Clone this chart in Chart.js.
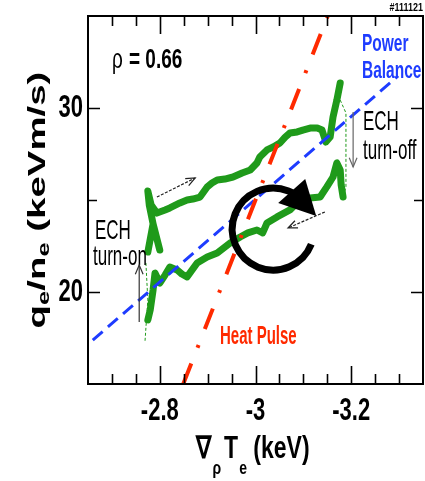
<!DOCTYPE html>
<html>
<head>
<meta charset="utf-8">
<script src="https://cdn.jsdelivr.net/npm/chart.js@4.4.1/dist/chart.umd.min.js"></script>
<style>
  html, body { margin: 0; padding: 0; background: #fff; overflow: hidden; }
</style>
</head>
<body>
<canvas id="chart" width="425" height="481"></canvas>
<script>
// ---- data (grad Te in keV, qe/ne in keVm/s) ----
const upperX = [-2.800, -2.786, -2.775, -2.786, -2.778, -2.775, -2.782, -2.794, -2.811, -2.821,
  -2.842, -2.857, -2.869, -2.884, -2.899, -2.909, -2.920, -2.936, -2.953, -2.972,
  -2.989, -3.003, -3.009, -3.024, -3.037, -3.051, -3.062, -3.072, -3.087, -3.099,
  -3.114, -3.129, -3.139, -3.147, -3.156, -3.162, -3.170, -3.177];
const upperY = [22.28, 23.70, 22.17, 23.70, 24.73, 25.49, 24.73, 24.29, 24.46, 24.57,
  24.84, 25.00, 25.05, 25.16, 25.71, 25.92, 26.09, 26.14, 26.25, 26.47,
  26.63, 27.01, 27.34, 27.72, 27.88, 28.10, 28.42, 28.64, 28.70, 28.80,
  28.91, 28.91, 28.80, 28.15, 28.42, 29.51, 30.43, 31.36];

const lowerX = [-3.183, -3.179, -3.177, -3.170, -3.166, -3.162, -3.149, -3.135, -3.114, -3.093,
  -3.072, -3.045, -3.024, -3.015, -3.003, -2.984, -2.968, -2.947, -2.920, -2.899,
  -2.878, -2.857, -2.846, -2.836, -2.821, -2.811, -2.800, -2.790, -2.786, -2.780, -2.775];
const lowerY = [25.16, 25.82, 26.63, 27.01, 26.63, 26.25, 25.71, 25.16, 25.11, 25.00,
  24.46, 24.08, 23.75, 23.21, 23.37, 23.21, 22.99, 22.66, 22.12, 21.90,
  21.58, 20.82, 20.98, 21.20, 21.36, 20.92, 20.49, 21.03, 20.11, 19.02, 18.48];

const turnOffX = [-3.177, -3.189, -3.189, -3.183];
const turnOffY = [30.43, 29.73, 25.71, 25.16];
const turnOnX = [-2.771, -2.775, -2.769];
const turnOnY = [21.58, 19.57, 17.28];

const powerBalanceX = [-2.660, -3.298];
const powerBalanceY = [17.39, 31.74];
const heatPulseX = [-2.849, -3.151];
const heatPulseY = [15.0, 35.0];

const xMajorTicks = [-2.8, -3, -3.2];
const xTickLabels = ["-2.8", "-3", "-3.2"];
const xMinorTicks = [-2.7, -2.75, -2.85, -2.9, -2.95, -3.05, -3.1, -3.15, -3.25, -3.3];
const yMajorTicks = [20, 30];
const yTickLabels = ["20", "30"];
const yMinorTicks = [25];

const GREEN = "#1f9a1a";
const BLUE = "#1e3cff";
const RED = "#ff2a00";
const FONT = "'Liberation Sans', Arial, Helvetica, sans-serif";

const pts = (xs, ys) => xs.map((x, i) => ({ x: x, y: ys[i] }));

// text stretched vertically like the original figure
function txt(ctx, s, x, y, font, color, align, k) {
  ctx.save();
  ctx.translate(x, y);
  ctx.scale(1, k);
  ctx.font = font;
  ctx.fillStyle = color;
  ctx.textAlign = align;
  ctx.textBaseline = "middle";
  ctx.fillText(s, 0, 0);
  ctx.restore();
}

// text made of pieces (subscripts), centred on x, baseline at y
function rich(ctx, pieces, x, y, k, rotate) {
  ctx.save();
  ctx.translate(x, y);
  ctx.scale(1, k);
  if (rotate) ctx.rotate(-Math.PI / 2);
  ctx.textAlign = "left";
  ctx.textBaseline = "alphabetic";
  ctx.fillStyle = "#000";
  let total = 0;
  pieces.forEach((p) => {
    ctx.font = p.font;
    p.w = ctx.measureText(p.t).width;
    total += p.w + (p.gap || 0);
  });
  let u = -total / 2;
  pieces.forEach((p) => {
    ctx.font = p.font;
    ctx.fillText(p.t, u, p.dy || 0);
    u += p.w + (p.gap || 0);
  });
  ctx.restore();
}

function arrow(ctx, x1, y1, x2, y2, color, dash) {
  ctx.save();
  ctx.strokeStyle = color;
  ctx.lineWidth = 1.2;
  ctx.setLineDash(dash || []);
  ctx.beginPath();
  ctx.moveTo(x1, y1);
  ctx.lineTo(x2, y2);
  ctx.stroke();
  ctx.setLineDash([]);
  const a = Math.atan2(y2 - y1, x2 - x1);
  const L = 10;
  ctx.beginPath();
  ctx.moveTo(x2 - L * Math.cos(a - 0.4), y2 - L * Math.sin(a - 0.4));
  ctx.lineTo(x2, y2);
  ctx.lineTo(x2 - L * Math.cos(a + 0.4), y2 - L * Math.sin(a + 0.4));
  ctx.stroke();
  ctx.restore();
}

const overlay = {
  id: "overlay",
  afterDraw(chart) {
    const ctx = chart.ctx;
    const xs = chart.scales.x;
    const ys = chart.scales.y;
    const a = chart.chartArea;
    const px = (v) => xs.getPixelForValue(v);
    const py = (v) => ys.getPixelForValue(v);

    // frame
    ctx.save();
    ctx.strokeStyle = "#000";
    ctx.lineWidth = 2;
    ctx.strokeRect(a.left, a.top, a.right - a.left, a.bottom - a.top);

    // inward ticks
    ctx.lineWidth = 1.6;
    ctx.beginPath();
    const xt = (v, len) => {
      const x = Math.round(px(v)) + 0.5;
      ctx.moveTo(x, a.bottom); ctx.lineTo(x, a.bottom - len);
      ctx.moveTo(x, a.top); ctx.lineTo(x, a.top + len);
    };
    const yt = (v, len) => {
      const y = Math.round(py(v)) + 0.5;
      ctx.moveTo(a.left, y); ctx.lineTo(a.left + len, y);
      ctx.moveTo(a.right, y); ctx.lineTo(a.right - len, y);
    };
    xMajorTicks.forEach((v) => xt(v, 18));
    xMinorTicks.forEach((v) => xt(v, 10));
    yMajorTicks.forEach((v) => yt(v, 12));
    yMinorTicks.forEach((v) => yt(v, 9));
    ctx.stroke();
    ctx.restore();

    // tick labels
    const tickFont = "bold 22px " + FONT;
    xMajorTicks.forEach((v, i) => txt(ctx, xTickLabels[i], px(v), 411, tickFont, "#000", "center", 1.45));
    yMajorTicks.forEach((v, i) => txt(ctx, yTickLabels[i], 83, py(v), tickFont, "#000", "right", 1.45));

    // axis titles
    const big = "bold 23px " + FONT;
    const sub = "bold 14px " + FONT;
    rich(ctx, [
      { t: "\u2207", font: big, gap: 1 },
      { t: "\u03c1", font: sub, dy: 11.5, gap: 3 },
      { t: "T", font: big, gap: 1 },
      { t: "e", font: sub, dy: 11.5 },
      { t: " (keV)", font: big }
    ], 253, 458, 1.35, false);

    const ybig = "bold 24px " + FONT;
    const ysub = "bold 16px " + FONT;
    rich(ctx, [
      { t: "q", font: ybig },
      { t: "e", font: ysub, dy: 4 },
      { t: "/", font: ybig },
      { t: "n", font: ybig },
      { t: "e", font: ysub, dy: 4 },
      { t: " (keVm/s)", font: ybig }
    ], 45, 200, 1.6, true);

    // labels in the plot
    txt(ctx, "#111121", 423, 8, "bold 9px " + FONT, "#000", "right", 1.3);
    txt(ctx, "\u03c1", 112, 60, "19px " + FONT, "#000", "left", 1.45);
    txt(ctx, "= 0.66", 129, 60, "bold 19px " + FONT, "#000", "left", 1.45);
    txt(ctx, "Power", 362, 44, "bold 15.5px " + FONT, BLUE, "left", 1.6);
    txt(ctx, "Balance", 362, 71, "bold 15.5px " + FONT, BLUE, "left", 1.6);
    txt(ctx, "ECH", 363, 122, "17px " + FONT, "#000", "left", 1.6);
    txt(ctx, "turn-off", 363, 151, "17px " + FONT, "#000", "left", 1.6);
    txt(ctx, "ECH", 95, 231, "17px " + FONT, "#000", "left", 1.6);
    txt(ctx, "turn-on", 93, 257, "17px " + FONT, "#000", "left", 1.6);
    txt(ctx, "Heat Pulse", 220, 337, "bold 15px " + FONT, RED, "left", 1.75);

    // small direction arrows
    arrow(ctx, px(-2.794), py(25.16), px(-2.874), py(26.20), "#222", [3, 1.5]);
    arrow(ctx, px(-3.145), py(24.35), px(-3.068), py(23.48), "#222", [3, 1.5]);
    arrow(ctx, px(-2.757), py(18.37), px(-2.757), py(21.47), "#333", []);
    arrow(ctx, px(-3.204), py(29.78), px(-3.204), py(26.79), "#666", []);

    // big clockwise circular arrow
    const cx = px(-3.037), cy = py(23.42), r = 41;
    ctx.save();
    ctx.strokeStyle = "#000";
    ctx.fillStyle = "#000";
    ctx.lineWidth = 7;
    ctx.beginPath();
    ctx.arc(cx, cy, r, 0.38, -1.05, false);
    ctx.stroke();
    ctx.beginPath();
    ctx.moveTo(cx + 5, cy - 26);
    ctx.lineTo(cx + 32, cy - 50);
    ctx.lineTo(cx + 43, cy - 13);
    ctx.closePath();
    ctx.fill();
    ctx.restore();
  }
};

const line = (xs, ys, color, width, dash, order, extra) => Object.assign({
  data: pts(xs, ys),
  showLine: true,
  borderColor: color,
  backgroundColor: color,
  borderWidth: width,
  borderDash: dash,
  pointRadius: 0,
  fill: false,
  tension: 0,
  order: order
}, extra || {});

new Chart(document.getElementById("chart").getContext("2d"), {
  type: "scatter",
  data: {
    datasets: [
      line(heatPulseX, heatPulseY, RED, 4, [22, 17, 3, 17], 1),
      line(powerBalanceX, powerBalanceY, BLUE, 3, [13, 7], 2),
      line(turnOffX, turnOffY, GREEN, 1, [3, 2], 3),
      line(turnOnX, turnOnY, GREEN, 1, [3, 2], 3),
      line(upperX, upperY, GREEN, 7, [], 4, { borderJoinStyle: "round", borderCapStyle: "round" }),
      line(lowerX, lowerY, GREEN, 7, [], 4, { borderJoinStyle: "round", borderCapStyle: "round" })
    ]
  },
  options: {
    responsive: false,
    animation: false,
    devicePixelRatio: 1,
    layout: { padding: { left: 88, top: 16, right: 2, bottom: 97 } },
    scales: {
      x: { type: "linear", min: -3.35, max: -2.65, reverse: true, display: false },
      y: { type: "linear", min: 15, max: 35, display: false }
    },
    plugins: {
      legend: { display: false },
      tooltip: { enabled: false }
    }
  },
  plugins: [overlay]
});
</script>
</body>
</html>
